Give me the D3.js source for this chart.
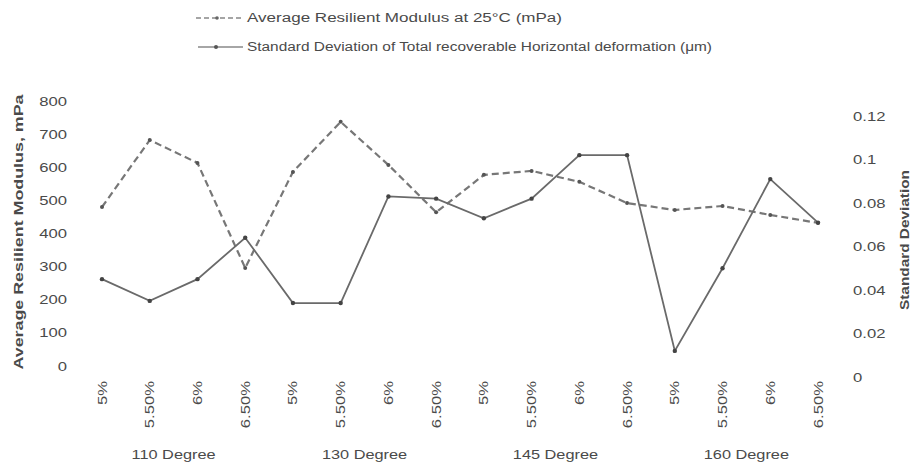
<!DOCTYPE html>
<html>
<head>
<meta charset="utf-8">
<script src="https://cdn.jsdelivr.net/npm/d3@7/dist/d3.min.js"></script>
<style>
  html, body { margin: 0; padding: 0; background: #fff; }
  svg { display: block; font-family: "Liberation Sans", Arial, sans-serif; }
</style>
</head>
<body>
<svg id="chart" width="916" height="476"></svg>
<script>
// ---- data ----
const categories = ["5%", "5.50%", "6%", "6.50%", "5%", "5.50%", "6%", "6.50%",
                    "5%", "5.50%", "6%", "6.50%", "5%", "5.50%", "6%", "6.50%"];
const groups = ["110 Degree", "130 Degree", "145 Degree", "160 Degree"];
const modulus = [480, 682, 613, 296, 586, 737, 607, 464, 577, 589, 556, 492, 471, 483, 456, 432];
const stdDev = [0.045, 0.035, 0.045, 0.064, 0.034, 0.034, 0.083, 0.082,
                0.073, 0.082, 0.102, 0.102, 0.012, 0.050, 0.091, 0.071];
const leftTicks = [0, 100, 200, 300, 400, 500, 600, 700, 800];
const rightTicks = [0, 0.02, 0.04, 0.06, 0.08, 0.1, 0.12];
const rightTickLabels = ["0", "0.02", "0.04", "0.06", "0.08", "0.1", "0.12"];
const legendLabels = ["Average Resilient Modulus at 25\u00B0C (mPa)",
                      "Standard Deviation of Total recoverable Horizontal deformation (\u03BCm)"];
const leftTitle = "Average Resilient Modulus, mPa";
const rightTitle = "Standard Deviation";

// ---- drawing ----
const svg = d3.select("#chart");
const textCol = "#4a4a4a";
const lineCol = "#6a6a6a";
const K = 1.28; // horizontal stretch of the scanned text

function stretch(sel, k) {
  sel.each(function () {
    const L = this.getComputedTextLength();
    d3.select(this).attr("textLength", L * k).attr("lengthAdjust", "spacingAndGlyphs");
  });
}

const x = d3.scalePoint().domain(d3.range(categories.length)).range([102, 818]);
const yL = d3.scaleLinear().domain([0, 800]).range([366, 101]);
const yR = d3.scaleLinear().domain([0, 0.12]).range([377, 116]);

// left ticks
const lt = svg.append("g").selectAll("text").data(leftTicks).join("text")
  .attr("x", 67).attr("y", d => yL(d)).attr("dy", "0.35em")
  .attr("text-anchor", "end").attr("font-size", 13).attr("fill", textCol)
  .text(d => d);
stretch(lt, K);

// right ticks
const rt = svg.append("g").selectAll("text").data(rightTicks).join("text")
  .attr("x", 853).attr("y", d => yR(d)).attr("dy", "0.35em")
  .attr("text-anchor", "start").attr("font-size", 13).attr("fill", textCol)
  .text((d, i) => rightTickLabels[i]);
stretch(rt, K);

// category labels
const ct = svg.append("g").selectAll("text").data(categories).join("text")
  .attr("transform", (d, i) => `translate(${x(i)},381) rotate(-90)`)
  .attr("dy", "0.35em").attr("text-anchor", "end")
  .attr("font-size", 13).attr("fill", textCol)
  .text(d => d);
stretch(ct, K);

// group labels
const gt = svg.append("g").selectAll("text").data(groups).join("text")
  .attr("x", (d, i) => (x(i * 4 + 1) + x(i * 4 + 2)) / 2)
  .attr("y", 459).attr("text-anchor", "middle")
  .attr("font-size", 13).attr("fill", textCol)
  .text(d => d);
stretch(gt, K * 0.98);

// axis titles
const tl = svg.append("text")
  .attr("transform", "translate(23,232) rotate(-90)")
  .attr("text-anchor", "middle").attr("font-size", 13).attr("font-weight", "bold")
  .attr("fill", textCol).text(leftTitle);
tl.attr("textLength", 275).attr("lengthAdjust", "spacingAndGlyphs");
const tr = svg.append("text")
  .attr("transform", "translate(909,240) rotate(-90)")
  .attr("text-anchor", "middle").attr("font-size", 13).attr("font-weight", "bold")
  .attr("fill", textCol).text(rightTitle);
tr.attr("textLength", 140).attr("lengthAdjust", "spacingAndGlyphs");

// lines
const lineL = d3.line().x((d, i) => x(i)).y(d => yL(d));
const lineR = d3.line().x((d, i) => x(i)).y(d => yR(d));

svg.append("path").datum(modulus)
  .attr("d", lineL).attr("fill", "none").attr("stroke", "#777")
  .attr("stroke-width", 2.2).attr("stroke-dasharray", "7,4");
svg.append("path").datum(stdDev)
  .attr("d", lineR).attr("fill", "none").attr("stroke", lineCol)
  .attr("stroke-width", 1.8);

svg.append("g").selectAll("circle").data(modulus).join("circle")
  .attr("cx", (d, i) => x(i)).attr("cy", d => yL(d)).attr("r", 2)
  .attr("fill", "#555");
svg.append("g").selectAll("circle").data(stdDev).join("circle")
  .attr("cx", (d, i) => x(i)).attr("cy", d => yR(d)).attr("r", 2.2)
  .attr("fill", "#444");

// legend
const leg = svg.append("g");
const legY = [18, 47];
leg.append("line").attr("x1", 196).attr("x2", 243).attr("y1", legY[0]).attr("y2", legY[0])
  .attr("stroke", "#888").attr("stroke-width", 1.6).attr("stroke-dasharray", "5,3");
leg.append("circle").attr("cx", 217).attr("cy", legY[0]).attr("r", 1.8).attr("fill", "#666");
leg.append("line").attr("x1", 198).attr("x2", 243).attr("y1", legY[1]).attr("y2", legY[1])
  .attr("stroke", "#888").attr("stroke-width", 1.4);
leg.append("circle").attr("cx", 216).attr("cy", legY[1]).attr("r", 2).attr("fill", "#555");
const lt1 = leg.append("text").attr("x", 247).attr("y", legY[0]).attr("dy", "0.35em")
  .attr("font-size", 12.5).attr("fill", textCol).text(legendLabels[0]);
lt1.attr("textLength", 315).attr("lengthAdjust", "spacingAndGlyphs");
const lt2 = leg.append("text").attr("x", 247).attr("y", legY[1]).attr("dy", "0.35em")
  .attr("font-size", 12.5).attr("fill", textCol).text(legendLabels[1]);
lt2.attr("textLength", 465).attr("lengthAdjust", "spacingAndGlyphs");
</script>
</body>
</html>
